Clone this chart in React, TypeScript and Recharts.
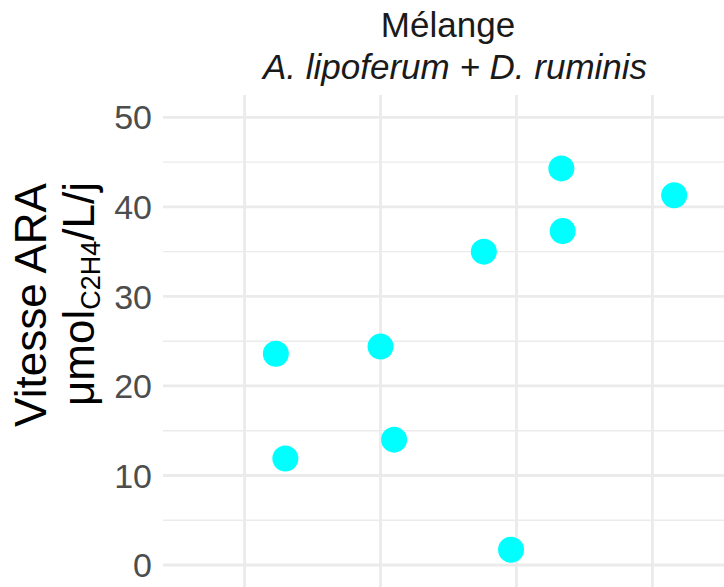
import React from "react";
import { CartesianGrid, Scatter, ScatterChart, XAxis, YAxis } from "recharts";

// jittered x positions (category index + jitter) and ARA rates
const xJitter = [1.23, 1.3, 2.0, 2.1, 2.76, 2.96, 3.33, 3.34, 4.16];
const araRate = [23.6, 11.9, 24.4, 14.0, 35.0, 1.7, 44.3, 37.3, 41.3];
const yTicks = [0, 10, 20, 30, 40, 50];
const yMinor = [5, 15, 25, 35, 45];
const xCats = [1, 2, 3, 4];

const points = xJitter.map((x, i) => ({ x, y: araRate[i] }));

const FONT = "Arial, 'Liberation Sans', Helvetica, sans-serif";

function Titles() {
  return (
    <g fontFamily={FONT}>
      <text x={448} y={37} textAnchor="middle" fontSize={35} fill="#1a1a1a">
        Mélange
      </text>
      <text x={455} y={79} textAnchor="middle" fontSize={35} fontStyle="italic" fill="#1a1a1a">
        A. lipoferum + D. ruminis
      </text>
      <text x={46} y={305} transform="rotate(-90 46 305)" textAnchor="middle" fontSize={44} fill="#000">
        Vitesse ARA
      </text>
      <text x={94} y={294} transform="rotate(-90 94 294)" textAnchor="middle" fontSize={44} fill="#000">
        μmol
        <tspan fontSize={27} dy={6}>
          C2H4
        </tspan>
        <tspan dy={-6}>/L/j</tspan>
      </text>
    </g>
  );
}

export default function App() {
  return (
    <div style={{ position: "absolute", left: 0, top: 0, width: 724, height: 587, overflow: "hidden", background: "#fff" }}>
      <ScatterChart width={740} height={600} margin={{ top: 95, right: 6, bottom: 12.6, left: 103 }}>
        <CartesianGrid stroke="#ebebeb" strokeWidth={1.4} horizontalValues={yMinor} vertical={false} />
        <CartesianGrid stroke="#ebebeb" strokeWidth={2.8} horizontalValues={yTicks} verticalValues={xCats} />
        <XAxis type="number" dataKey="x" domain={[0.4, 4.6]} hide />
        <YAxis
          type="number"
          dataKey="y"
          domain={[-2.5, 52.5]}
          ticks={yTicks}
          width={60}
          axisLine={false}
          tickLine={false}
          tickSize={0}
          tickMargin={11}
          tick={{ fontSize: 34, fill: "#4d4d4d", fontFamily: FONT }}
          label={<Titles />}
        />
        <Scatter
          data={points}
          isAnimationActive={false}
          shape={(p: any) => <circle cx={p.cx} cy={p.cy} r={13} fill="#00ffff" />}
        />
      </ScatterChart>
    </div>
  );
}
